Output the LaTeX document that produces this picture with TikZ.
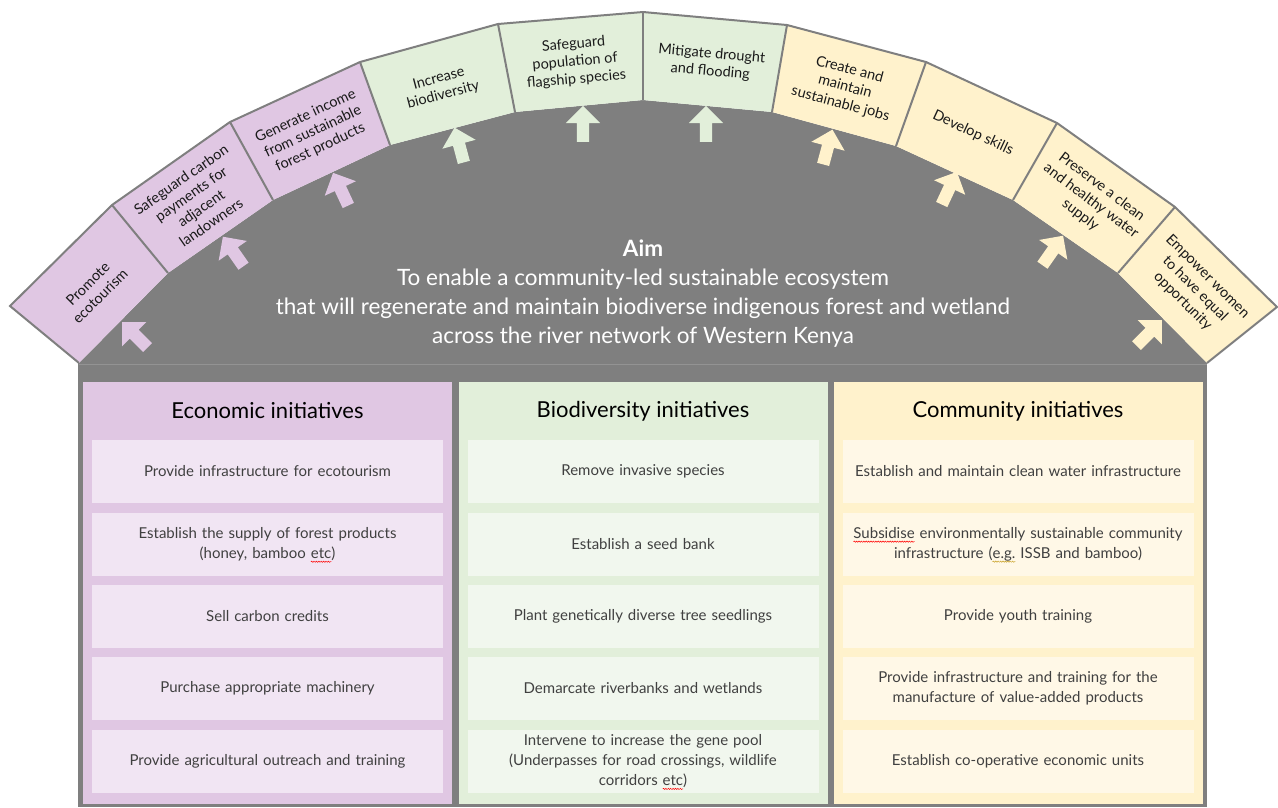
\documentclass[tikz,border=0pt]{standalone}
\usepackage{fontspec}
\setmainfont{Lato}
\usetikzlibrary{shapes.arrows,decorations.pathmorphing}
\definecolor{archgray}{HTML}{7F7F7F}
\definecolor{purp}{HTML}{E0C7E3}
\definecolor{purpl}{HTML}{F1E5F3}
\definecolor{grn}{HTML}{E2EFDA}
\definecolor{grnl}{HTML}{F1F7EE}
\definecolor{yel}{HTML}{FFF2CC}
\definecolor{yell}{HTML}{FFF8E7}
\definecolor{itemtext}{HTML}{404040}
\definecolor{boxtext}{HTML}{1A1A1A}
\definecolor{gramgold}{HTML}{C9A227}
\newsavebox\wavebox
\newlength\wavelen
\newcommand\spellwave[2]{\sbox\wavebox{#2}\setlength\wavelen{\wd\wavebox}%
  \makebox[0pt][l]{\usebox\wavebox}%
  \tikz[baseline=0pt]{\useasboundingbox (0pt,0pt) rectangle (\wavelen,0pt);
    \draw[#1, line width=0.5pt, decorate, decoration={snake, amplitude=0.6pt, segment length=2.4pt}]
      (0pt,-3pt) -- (\wavelen,-3pt);}}
\tikzset{
  archtext/.style={text=boxtext, align=center, font=\fontsize{14.5}{17.5}\selectfont, inner sep=0pt},
  uparrow/.style={single arrow, draw=none, minimum height=36pt, single arrow head extend=11pt,
    inner sep=6pt, single arrow tip angle=90, anchor=center},
  panel/.style={rectangle, draw=none, minimum width=369pt, minimum height=422pt, inner sep=0pt},
  item/.style={rectangle, draw=none, minimum width=351pt, minimum height=63pt, inner sep=0pt,
    text width=340pt, align=center, text=itemtext, font=\fontsize{15}{20}\selectfont},
  header/.style={text=black, font=\fontsize{22}{26}\selectfont, inner sep=0pt},
}
\begin{document}
\begin{tikzpicture}[x=1pt,y=-1pt]
\useasboundingbox (0,0) rectangle (1278,807);
% vertices of the arch
\coordinate (o0) at (10,306);
\coordinate (o1) at (112,205);
\coordinate (o2) at (230,122);
\coordinate (o3) at (360,62);
\coordinate (o4) at (498,24);
\coordinate (o5) at (643,12);
\coordinate (o6) at (787,25);
\coordinate (o7) at (926,62);
\coordinate (o8) at (1057,123);
\coordinate (o9) at (1175,207);
\coordinate (o10) at (1277,307);
\coordinate (i0) at (79,363);
\coordinate (i1) at (168,273);
\coordinate (i2) at (273,200);
\coordinate (i3) at (390,145);
\coordinate (i4) at (515,112);
\coordinate (i5) at (643,100);
\coordinate (i6) at (772,112);
\coordinate (i7) at (896,146);
\coordinate (i8) at (1013,200);
\coordinate (i9) at (1118,273);
\coordinate (i10) at (1207,363);
% gray body
\fill[archgray] (78,363) rectangle (1207,807);
\fill[archgray] (i0) -- (i1) -- (i2) -- (i3) -- (i4) -- (i5) -- (i6) -- (i7) -- (i8) -- (i9) -- (i10) -- cycle;
\draw[gray!85!white, line width=0.8pt] (79,364) -- (1207,364);
% arch boxes
\fill[purp] (o0) -- (o1) -- (i1) -- (i0) -- cycle;
\fill[purp] (o1) -- (o2) -- (i2) -- (i1) -- cycle;
\fill[purp] (o2) -- (o3) -- (i3) -- (i2) -- cycle;
\fill[grn] (o3) -- (o4) -- (i4) -- (i3) -- cycle;
\fill[grn] (o4) -- (o5) -- (i5) -- (i4) -- cycle;
\fill[grn] (o5) -- (o6) -- (i6) -- (i5) -- cycle;
\fill[yel] (o6) -- (o7) -- (i7) -- (i6) -- cycle;
\fill[yel] (o7) -- (o8) -- (i8) -- (i7) -- cycle;
\fill[yel] (o8) -- (o9) -- (i9) -- (i8) -- cycle;
\fill[yel] (o9) -- (o10) -- (i10) -- (i9) -- cycle;
\draw[archgray, line width=2pt, line join=miter] (i0) -- (o0) -- (o1) -- (o2) -- (o3) -- (o4) -- (o5) -- (o6) -- (o7) -- (o8) -- (o9) -- (o10) -- (i10);
\foreach \k in {1,...,9} \draw[archgray, line width=2pt] (o\k) -- (i\k);
% arch texts
\node[archtext, rotate=45] (t1) at (94,290) {Promote\\ecotourism};
\node[archtext, rotate=35] (t2) at (196,201) {Safeguard carbon\\payments for\\adjacent\\landowners};
\node[archtext, rotate=25] (t3) at (313,132) {Generate income\\from sustainable\\forest products};
\node[archtext, rotate=15] (t4) at (441,87) {Increase\\biodiversity};
\node[archtext, rotate=5] (t5) at (575,62) {Safeguard\\population of\\flagship species};
\node[archtext, rotate=-5] (t6) at (711,63) {Mitigate drought\\and flooding};
\node[archtext, rotate=-15] (t7) at (845,87) {Create and\\maintain\\sustainable jobs};
\node[archtext, rotate=-25] (t8) at (973,133) {Develop skills};
\node[archtext, rotate=-37] (t9) at (1091,201) {Preserve a clean\\and healthy water\\supply};
\node[archtext, rotate=-45] (t10) at (1195,289) {Empower women\\to have equal\\opportunity};
% arrows
\node[uparrow, fill=purp, rotate=135] (a1) at (137,337) {};
\node[uparrow, fill=purp, rotate=125] (a2) at (235,254) {};
\node[uparrow, fill=purp, rotate=115] (a3) at (342,192) {};
\node[uparrow, fill=grn, rotate=105] (a4) at (460,148) {};
\node[uparrow, fill=grn, rotate=90] (a5) at (583,127) {};
\node[uparrow, fill=grn, rotate=90] (a6) at (706,127) {};
\node[uparrow, fill=yel, rotate=75] (a7) at (827,150) {};
\node[uparrow, fill=yel, rotate=65] (a8) at (948,191) {};
\node[uparrow, fill=yel, rotate=55] (a9) at (1051,253) {};
\node[uparrow, fill=yel, rotate=45] (a10) at (1147,335) {};
% aim
\node[text=white, align=center, font=\fontsize{22.5}{29}\selectfont, inner sep=0pt] (aim) at (643,294)
  {\textbf{Aim}\\To enable a community-led sustainable ecosystem\\that will regenerate and maintain biodiverse indigenous forest and wetland\\across the river network of Western Kenya};
% panels
\node[panel, fill=purp] (econ) at (267.5,593) {};
\node[panel, fill=grn] (bio) at (643,593) {};
\node[panel, fill=yel] (comm) at (1018,593) {};
\node[header] (eh) at (267.5,411) {Economic initiatives};
\node[header] (bh) at (643,411) {Biodiversity initiatives};
\node[header] (ch) at (1018,411) {Community initiatives};
% economic items
\node[item, fill=purpl] (e1) at (267.5,471.5) {Provide infrastructure for ecotourism};
\node[item, fill=purpl] (e2) at (267.5,544.5) {Establish the supply of forest products\\(honey, bamboo \spellwave{red}{etc})};
\node[item, fill=purpl] (e3) at (267.5,616.5) {Sell carbon credits};
\node[item, fill=purpl] (e4) at (267.5,688.5) {Purchase appropriate machinery};
\node[item, fill=purpl] (e5) at (267.5,761.5) {Provide agricultural outreach and training};
% biodiversity items
\node[item, fill=grnl] (b1) at (643,471.5) {Remove invasive species};
\node[item, fill=grnl] (b2) at (643,544.5) {Establish a seed bank};
\node[item, fill=grnl] (b3) at (643,616.5) {Plant genetically diverse tree seedlings};
\node[item, fill=grnl] (b4) at (643,688.5) {Demarcate riverbanks and wetlands};
\node[item, fill=grnl] (b5) at (643,761.5) {Intervene to increase the gene pool\\(Underpasses for road crossings, wildlife\\corridors \spellwave{red}{etc})};
% community items
\node[item, fill=yell] (c1) at (1018,471.5) {Establish and maintain clean water infrastructure};
\node[item, fill=yell] (c2) at (1018,544.5) {\spellwave{red}{Subsidise} environmentally sustainable community\\infrastructure (\spellwave{gramgold}{e.g.} ISSB and bamboo)};
\node[item, fill=yell] (c3) at (1018,616.5) {Provide youth training};
\node[item, fill=yell] (c4) at (1018,688.5) {Provide infrastructure and training for the\\manufacture of value-added products};
\node[item, fill=yell] (c5) at (1018,761.5) {Establish co-operative economic units};
\end{tikzpicture}
\end{document}
